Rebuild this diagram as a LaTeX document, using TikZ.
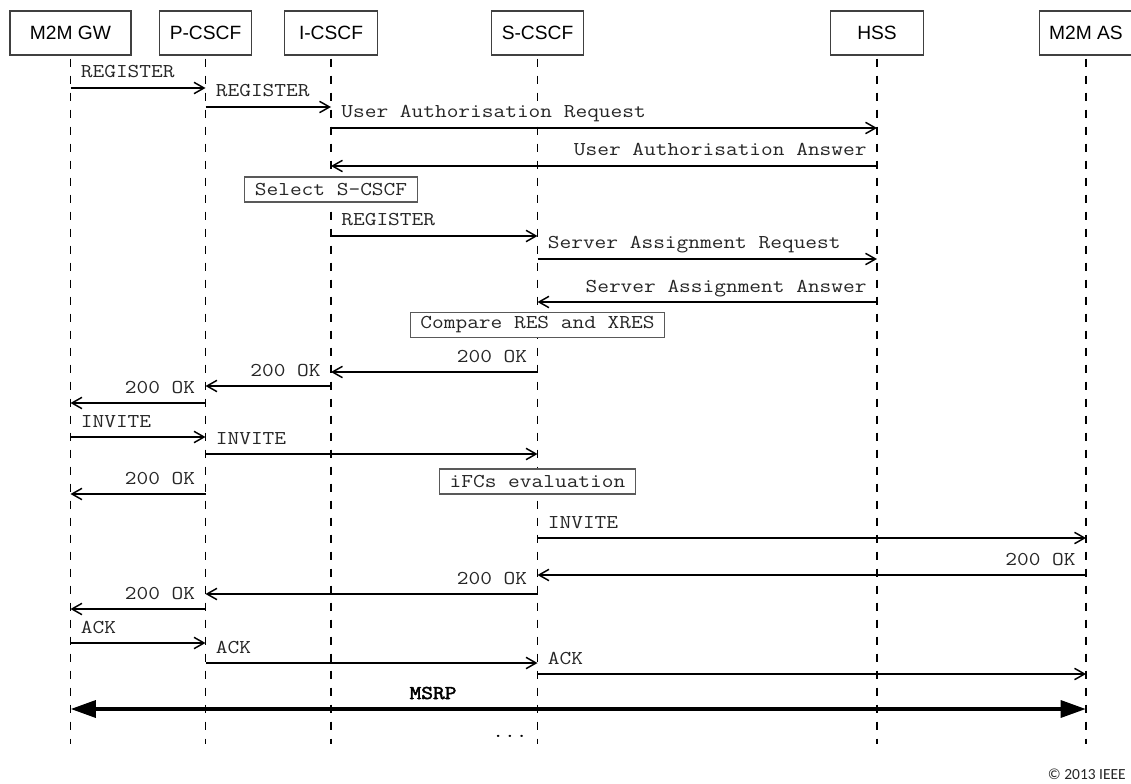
\documentclass[tikz,border=0pt]{standalone}
\usepackage{fontspec}
\setmainfont{Liberation Sans}
\newfontfamily\monofont[FakeStretch=1.16]{Latin Modern Mono}
\newfontfamily\monobold[FakeStretch=1.16,FakeBold=2.5]{Latin Modern Mono}
\newfontfamily\capfont{Carlito}
\usetikzlibrary{arrows.meta}

% message from lifeline #1 to lifeline #2 at height #3, label at the sending end
\newcommand\msgright[4]{\draw[msg] (#1 |- 0,#3) -- (#2 |- 0,#3)
  node[lbl,pos=0,anchor=base west,xshift=6.75pt,yshift=7.5pt]{#4};}
\newcommand\msgleft[4]{\draw[msg] (#1 |- 0,#3) -- (#2 |- 0,#3)
  node[lbl,pos=0,anchor=base east,xshift=-6.75pt,yshift=7.5pt]{#4};}

\tikzset{
  actor/.style={draw=black!75, line width=0.8pt, fill=white, inner sep=0pt,
    minimum height=33pt, font=\fontsize{14.4pt}{16pt}\selectfont},
  life/.style={line width=1.1pt, dash pattern=on 6.5pt off 6.25pt},
  msg/.style={line width=1.1pt, -{Straight Barb[length=7.5pt,width=8.5pt]}},
  lbl/.style={inner sep=0.5pt, fill=white, text=black!85,
    font=\monofont\fontsize{14.7pt}{16pt}\selectfont},
  notebox/.style={draw=black!65, line width=0.8pt, fill=white, inner xsep=7.5pt,
    inner ysep=0pt, minimum height=18.75pt, text=black!85,
    font=\monofont\fontsize{14.7pt}{16pt}\selectfont},
  msrp/.style={line width=3.2pt, {Triangle[length=19pt,width=12.5pt]}-{Triangle[length=19pt,width=12.5pt]}}
}

\begin{document}
\begin{tikzpicture}[x=0.75pt, y=-0.75pt]
  \useasboundingbox (0,0) rectangle (1131,784);
  \fill[white] (0,0) rectangle (1131,784);

  % participants
  \node[actor, minimum width=90.75pt] (gw)  at (70.5,33)  {M2M GW};
  \node[actor, minimum width=69pt]    (pc)  at (205.5,33) {P-CSCF};
  \node[actor, minimum width=69.75pt] (ic)  at (331,33)   {I-CSCF};
  \node[actor, minimum width=69pt]    (sc)  at (537.5,33) {S-CSCF};
  \node[actor, minimum width=69.75pt] (hss) at (877,33)   {HSS};
  \node[actor, minimum width=69.75pt] (as)  at (1086,33)  {M2M AS};

  % lifelines
  \coordinate (end) at (0,744);
  \foreach \p in {gw,pc,ic,sc,hss,as}
    \draw[life] (\p.south) ++(0,3) -- (\p |- end);

  % registration
  \msgright{gw}{pc}{88}{REGISTER}
  \msgright{pc}{ic}{107}{REGISTER}
  \msgright{ic}{hss}{128}{User Authorisation Request}
  \msgleft{hss}{ic}{166}{User Authorisation Answer}
  \node[notebox] (sel) at (ic |- 0,189.5) {Select S-CSCF};
  \msgright{ic}{sc}{236}{REGISTER}
  \msgright{sc}{hss}{259}{Server Assignment Request}
  \msgleft{hss}{sc}{302}{Server Assignment Answer}
  \node[notebox] (cmp) at (sc |- 0,325) {Compare RES and XRES};
  \msgleft{sc}{ic}{372}{200 OK}
  \msgleft{ic}{pc}{386}{200 OK}
  \msgleft{pc}{gw}{403}{200 OK}

  % session set-up
  \msgright{gw}{pc}{437}{INVITE}
  \msgright{pc}{sc}{454}{INVITE}
  \msgleft{pc}{gw}{494}{200 OK}
  \node[notebox] (ifc) at (sc |- 0,481.5) {iFCs evaluation};
  \msgright{sc}{as}{538}{INVITE}
  \msgleft{as}{sc}{575}{200 OK}
  \msgleft{sc}{pc}{594}{200 OK}
  \msgleft{pc}{gw}{609}{200 OK}
  \msgright{gw}{pc}{643}{ACK}
  \msgright{pc}{sc}{663}{ACK}
  \msgright{sc}{as}{674}{ACK}

  % media session
  \draw[msrp] (gw |- 0,709) -- (as |- 0,709)
    node[pos=0.357, anchor=base, yshift=7.5pt, inner sep=0pt,
      font=\monobold\fontsize{14.7pt}{16pt}\selectfont] (msrplbl) {MSRP};
  \node[anchor=base, inner sep=0pt, font=\monofont\fontsize{14.7pt}{16pt}\selectfont] (dots) at (510,737) {...};

  \node[anchor=base east, inner sep=0pt, text=black!85, font=\capfont\fontsize{11.6pt}{13pt}\selectfont] (copy) at (1126,779) {© 2013 IEEE};
\end{tikzpicture}
\end{document}
